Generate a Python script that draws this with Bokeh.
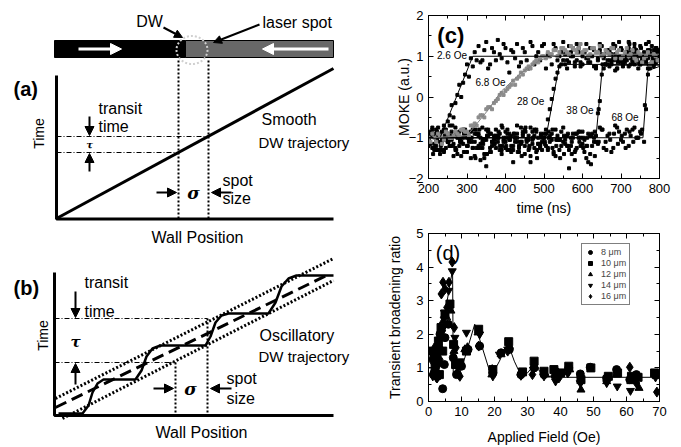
import math
from bokeh.plotting import figure
from bokeh.layouts import row, column
from bokeh.models import (Range1d, Arrow, NormalHead, FixedTicker, LinearAxis,
                          CustomJSTickFormatter, Legend, LegendItem)
from bokeh.core.properties import value
from bokeh.embed import file_html
from bokeh.resources import INLINE

FONT = "Liberation Sans"

# ------------------------------------------------------------------ panel (c) data
t_grid = list(range(200, 801, 10))
t_grid_b = list(range(205, 800, 10))
t_grid_c = list(range(202, 800, 10))

moke_26_a = [-1.1, -0.8, -1.3, -0.9, -0.7, -0.6, -0.2, -0.15, 0.3, 0.35, 0.8, 0.95, 1.1, 1.25, 0.9, 1.35,
             0.8, 1.1, 1.4, 0.95, 1.2, 0.6, 1.1, 1.3, 0.85, 1.1, 0.7, 1.25, 1.0, 0.9, 1.3, 1.05, 0.8, 1.2,
             1.0, 1.35, 0.9, 1.1, 0.75, 1.2, 1.0, 1.3, 0.85, 1.15, 0.95, 1.25, 0.8, 1.1, 1.3, 0.9, 1.2,
             1.0, 1.35, 0.85, 1.1, 1.25, 0.95, 1.15, 0.8, 1.2, 1.05]
moke_26_b = [-0.9, -1.25, -0.75, -1.1, -0.85, -0.45, -0.5, 0.05, 0.0, 0.55, 0.5, 0.75, 0.9, 0.85, 1.15,
             0.7, 1.2, 0.9, 1.05, 1.3, 0.85, 1.15, 0.95, 0.75, 1.2, 0.9, 1.35, 0.8, 1.1, 1.25, 0.7, 1.0,
             1.3, 0.9, 1.1, 0.8, 1.25, 1.0, 1.3, 0.85, 1.1, 0.95, 1.2, 0.75, 1.3, 1.0, 1.15, 0.85, 1.05,
             1.35, 0.9, 1.1, 0.8, 1.2, 1.0, 0.9, 1.3, 1.05, 1.15, 0.95]
moke_68g_a = [-1.0, -0.9, -1.1, -0.95, -1.05, -0.9, -1.0, -0.85, -0.95, -0.8,
              -0.85, -0.7, -0.65, -0.5, -0.45, -0.3, -0.25, -0.15, -0.05, 0.1,
              0.15, 0.25, 0.4, 0.45, 0.6, 0.65, 0.75, 0.8, 0.9, 0.95,
              1.0, 1.1, 1.05, 1.15, 1.1, 1.2, 1.1, 1.25, 1.15, 1.2,
              1.1, 1.15, 1.05, 1.2, 1.1, 1.0, 1.15, 1.05, 1.2, 1.1,
              0.95, 1.1, 1.0, 1.15, 0.9, 1.05, 0.95, 1.1, 0.85, 1.0, 0.9]
moke_68g_b = [-1.1, -1.0, -0.9, -1.15, -0.85, -1.0, -0.95, -0.9, -0.8, -0.85,
              -0.95, -0.7, -0.7, -0.45, -0.5, -0.25, -0.3, -0.1, 0.05, 0.05,
              0.2, 0.3, 0.3, 0.5, 0.55, 0.7, 0.7, 0.85, 0.85, 1.0,
              0.95, 1.05, 1.15, 1.0, 1.2, 1.15, 1.05, 1.2, 1.1, 1.3,
              1.15, 1.0, 1.2, 1.1, 1.25, 1.05, 1.1, 1.2, 0.95, 1.15,
              1.0, 1.2, 1.05, 0.95, 1.1, 0.85, 1.0, 0.8, 1.05, 0.9]
moke_28_a = [-1.2, -0.9, -1.05, -1.4, -0.8, -1.1, -0.95, -1.3, -0.85, -1.15,
             -1.0, -1.5, -0.9, -1.2, -0.75, -1.05, -1.35, -0.95, -1.1, -0.7,
             -1.25, -1.0, -1.6, -0.9, -1.15, -0.8, -1.3, -1.05, -0.85, -1.2,
             -1.0, -0.55, -0.05, 0.45, 0.75, 0.9, 0.7, 1.0, 0.85, 1.1,
             0.8, 0.95, 1.2, 0.75, 0.9, 1.05, 0.8, 1.15, 0.9, 0.7,
             1.0, 0.85, 1.2, 0.9, 1.05, 0.8, 1.1, 0.95, 1.25, 0.85, 1.0]
moke_28_b = [-0.85, -1.3, -0.95, -1.1, -1.25, -0.7, -1.15, -1.0, -1.45, -0.9,
             -1.1, -0.8, -1.25, -1.0, -1.4, -0.85, -1.1, -1.25, -0.9, -1.05,
             -0.8, -1.2, -1.0, -1.35, -0.95, -1.1, -0.75, -1.25, -1.0, -1.1,
             -0.9, -0.3, 0.2, 0.6, 0.8, 1.05, 0.85, 1.2, 0.9, 0.75,
             1.1, 0.85, 1.0, 0.7, 1.15, 0.95, 0.8, 1.05, 1.25, 0.9,
             0.8, 1.1, 0.95, 1.3, 0.85, 1.0, 0.9, 1.15, 0.8, 1.05]
moke_38_a = [-0.95, -1.25, -0.8, -1.1, -1.3, -0.9, -1.05, -0.75, -1.2, -1.0,
             -1.35, -0.85, -1.1, -0.95, -1.25, -1.7, -0.9, -1.15, -1.0, -1.3,
             -0.85, -1.05, -1.2, -0.7, -1.1, -1.4, -0.95, -1.15, -0.8, -1.25,
             -1.0, -1.3, -0.9, -1.45, -1.05, -0.75, -1.2, -1.0, -1.35, -0.85,
             -1.15, -1.5, -0.95, -1.1, -0.4, 0.55, 0.8, 0.75, 0.95, 0.7,
             0.85, 1.0, 0.75, 0.9, 1.15, 0.8, 0.95, 0.7, 1.05, 0.85, 0.9]
moke_38_b = [-1.15, -0.9, -1.3, -1.05, -0.8, -1.2, -1.45, -0.95, -1.1, -0.85,
             -1.0, -1.25, -0.9, -1.55, -1.05, -0.8, -1.2, -0.95, -1.3, -1.1,
             -0.9, -1.35, -1.0, -1.2, -0.85, -1.05, -1.6, -0.95, -1.15, -1.3,
             -0.8, -1.1, -1.4, -0.95, -1.2, -1.05, -1.75, -0.9, -1.25, -1.0,
             -1.35, -0.9, -1.2, -0.95, -0.1, 0.7, 0.9, 0.8, 0.65, 1.0,
             0.75, 0.9, 1.1, 0.8, 0.7, 0.95, 0.85, 1.05, 0.75, 0.9]
moke_38_c = [-1.0, -1.4, -0.85, -1.2, -0.95, -1.1, -0.7, -1.3, -1.05, -0.9,
             -1.2, -1.0, -1.5, -0.8, -1.15, -0.95, -1.35, -1.05, -0.85, -1.2,
             -1.0, -1.3, -0.9, -1.1, -1.45, -0.75, -1.2, -1.0, -1.3, -0.9,
             -1.1, -0.85, -1.25, -1.05, -1.5, -0.95, -1.2, -1.4, -0.9, -1.1,
             -1.25, -1.0, -1.65, -0.85, -0.3, 0.8, 1.1, 0.9, 1.2, 0.85,
             1.15, 0.95, 1.3, 1.05, 0.9, 1.2, 1.0, 1.35, 0.95, 1.1]
moke_68_a = [-1.05, -0.75, -1.2, -0.95, -1.35, -1.1, -0.85, -1.25, -1.0, -0.8,
             -1.2, -1.0, -1.45, -0.9, -1.1, -0.8, -1.25, -1.05, -0.95, -1.4,
             -1.1, -0.9, -1.3, -1.0, -0.75, -1.2, -1.05, -0.85, -1.35, -1.15,
             -0.9, -1.25, -1.05, -0.8, -1.3, -1.1, -0.95, -1.2, -1.55, -1.0,
             -0.85, -1.2, -1.4, -1.0, -1.15, -0.8, -1.1, -0.9, -1.25, -0.75,
             -1.05, -0.9, -1.2, -0.8, -1.0, -0.85, -1.1, 0.55, 0.85, 1.0, 1.1]
moke_68_b = [-0.9, -1.15, -1.3, -0.85, -1.05, -1.2, -0.95, -1.4, -1.1, -0.8,
             -1.05, -1.25, -0.9, -1.15, -1.5, -0.95, -1.1, -0.8, -1.2, -1.0,
             -1.3, -0.95, -1.1, -1.25, -0.9, -1.05, -1.45, -0.8, -1.15, -1.0,
             -1.2, -0.95, -1.35, -1.05, -0.85, -1.15, -1.3, -1.0, -0.9, -1.2,
             -1.05, -1.6, -0.9, -1.1, -0.75, -1.25, -0.95, -1.35, -0.7, -0.85,
             -1.1, -0.8, -0.95, -0.75, -1.0, -0.8, -0.3, 0.7, 0.95, 1.15]
moke_68_c = [-1.15, -0.95, -1.05, -1.3, -0.8, -1.0, -1.2, -0.9, -1.1, -1.35,
             -0.95, -1.1, -0.8, -1.25, -1.05, -1.4, -0.9, -1.15, -1.0, -0.75,
             -1.2, -1.05, -0.9, -1.35, -1.1, -0.85, -1.25, -1.0, -1.5, -0.95,
             -1.15, -1.0, -0.8, -1.2, -1.05, -1.4, -0.9, -1.1, -1.3, -0.85,
             -1.0, -1.2, -0.95, -1.45, -1.1, -0.8, -1.3, -1.05, -0.9, -1.15,
             -0.95, -1.25, -0.85, -1.1, -1.0, -0.9, -0.2, 0.8, 1.05, 1.2]

fit_26_t = [200, 230, 315, 800]
fit_26_m = [-1.0, -1.0, 1.0, 1.0]
fit_68g_t = [200, 300, 352, 390, 438, 489, 540, 800]
fit_68g_m = [-1.0, -0.95, -0.35, 0.15, 0.57, 0.9, 1.05, 1.05]
fit_28_t = [200, 505, 540, 800]
fit_28_m = [-1.0, -1.0, 0.8, 0.8]
fit_38_t = [200, 635, 652, 800]
fit_38_m = [-1.0, -1.0, 0.78, 0.78]
fit_68_t = [200, 757, 770, 800]
fit_68_m = [-1.0, -1.0, 0.65, 0.75]

field_labels = ["2.6 Oe", "6.8 Oe", "28 Oe", "38 Oe", "68 Oe"]
field_label_t = [222, 322, 430, 558, 675]
field_label_m = [1.02, 0.36, -0.11, -0.33, -0.5]

# ------------------------------------------------------------------ panel (d) data
f8 = [1.5, 1.8, 2.5, 2.8, 3.2, 3.5, 4.3, 4.8, 5.0, 6.0, 7.5, 8.5, 10, 12, 15.5, 19.5, 22, 24.5, 28, 32,
      35, 38.5, 42.5, 46, 49, 54, 57, 61, 63, 69]
r8 = [0.8, 1.4, 1.2, 0.75, 1.6, 2.0, 0.38, 1.1, 1.9, 2.3, 1.3, 0.8, 1.05, 1.55, 1.65, 0.85, 1.45, 1.55,
      0.8, 1.0, 0.8, 0.9, 1.0, 0.82, 1.02, 0.7, 0.95, 0.65, 0.8, 0.8]
f10 = [1.2, 2.0, 2.5, 3.0, 3.3, 3.8, 4.3, 5.0, 6.5, 7.6, 8.2, 9.5, 11.5, 15.2, 19.5, 24.3, 28.5, 32, 35,
       38, 40, 42.5, 46.2, 49.2, 54.5, 57.3, 61.5, 63.5, 68.5]
r10 = [1.5, 1.0, 1.3, 1.8, 0.8, 2.2, 1.5, 2.6, 2.9, 1.7, 1.1, 1.15, 1.5, 2.15, 0.95, 1.78, 0.88, 1.2, 0.9,
       0.95, 0.85, 1.05, 0.65, 1.0, 0.75, 0.85, 0.75, 0.72, 0.85]
f12 = [1.0, 1.7, 2.2, 2.9, 3.5, 4.0, 4.5, 5.5, 6.8, 7.7, 8.8, 11, 15, 19.2, 22, 24.5, 28, 32.2, 35.5, 39,
       42.8, 46.2, 54, 57, 61.3, 63.8, 69]
r12 = [1.3, 1.6, 0.95, 1.2, 2.1, 1.9, 2.4, 2.5, 2.7, 1.5, 0.9, 1.55, 2.05, 0.8, 1.4, 1.65, 0.85, 1.05,
       0.8, 0.8, 0.95, 0.35, 0.6, 0.8, 0.6, 0.4, 0.75]
f14 = [1.3, 2.0, 2.4, 3.1, 3.6, 4.0, 4.5, 4.8, 6.1, 7.2, 8.0, 11.5, 15.5, 19.5, 21.5, 24, 28.2, 31.8, 35,
       38.5, 42.5, 46, 54, 57.2, 61.2, 68.8]
r14 = [0.75, 1.15, 0.7, 1.1, 1.5, 2.05, 2.2, 2.65, 3.3, 3.88, 1.9, 2.05, 2.0, 0.75, 1.4, 1.55, 0.8, 0.95,
       0.75, 0.6, 0.9, 0.55, 0.55, 0.45, 0.32, 0.72]
f16 = [1.2, 1.6, 2.2, 2.6, 3.0, 3.4, 3.9, 4.4, 4.6, 5.0, 5.6, 6.2, 7.2, 7.8, 8.3, 9.5, 11.8, 15.2, 15.5,
       19.3, 24, 28, 31.5, 35, 38, 39.5, 42.2, 46.3, 54.2, 57, 61, 63, 69.2]
r16 = [1.2, 0.9, 1.5, 0.7, 0.8, 1.25, 3.2, 3.55, 2.5, 3.35, 2.8, 3.55, 4.15, 2.2, 1.6, 0.75, 1.6, 1.65,
       2.05, 0.95, 1.5, 0.78, 0.8, 0.85, 0.75, 0.7, 0.85, 0.6, 0.65, 0.9, 1.02, 0.55, 0.28]
fit_d_f = [0, 1.5, 2.5, 4, 5.5, 6.5, 7.3, 7.5, 9, 11, 14, 16, 19, 21.5, 24, 26, 28, 30, 32, 35, 38, 70]
fit_d_r = [1.0, 1.0, 1.3, 2.0, 2.9, 3.5, 3.9, 0.8, 0.75, 1.3, 2.3, 1.7, 0.75, 1.2, 1.75, 1.2, 0.78, 0.85,
           1.1, 0.75, 0.72, 0.72]
size_labels = ["8 μm", "10 μm", "12 μm", "14 μm", "16 μm"]

# ------------------------------------------------------------------ schematic geometry (page px)
bar_black = [54, 185, 40, 57]          # left, right, top, bottom
bar_gray = [185, 333, 40, 57]
spot_circle = [191.5, 49.5, 31, 28]     # x, y, w, h

a_axis_x = [56, 56, 333]
a_axis_y = [75, 218.5, 218.5]
a_traj_x = [56, 333]
a_traj_y = [218, 68]
a_spot_x = [178, 208]
a_spot_top = [60, 60]
a_spot_bot = [218, 218]
a_transit_y = [136, 152]
a_transit_x_end = [208, 178]

b_axis_x = [54, 54, 333]
b_axis_y = [272, 415, 415]
b_upper_x = [55, 333]
b_upper_y = [398, 258]
b_lower_x = [62, 333]
b_lower_y = [418, 280]
b_mid_x = [55, 330]
b_mid_y = [407, 273]
b_osc_x = [58, 82, 88, 92, 97, 103, 135, 141, 146, 152, 160, 205, 210, 215, 221, 228, 268, 275, 281,
           288, 296, 333]
b_osc_y = [413, 413, 405, 392, 383, 379, 379, 370, 356, 348, 345, 345, 336, 322, 315, 313, 313, 302,
           286, 278, 275, 275]
b_spot_x = [175, 207]
b_spot_top = [362, 318]
b_spot_bot = [415, 415]
b_transit_y = [318, 362]
b_transit_x_end = [207, 175]

# ------------------------------------------------------------------ left schematic figure
L = figure(width=353, height=447, x_range=Range1d(0, 353), y_range=Range1d(447, 0),
           x_axis_type=None, y_axis_type=None, output_backend="svg", toolbar_location=None,
           min_border=0)
L.outline_line_color = None
L.xgrid.visible = False
L.ygrid.visible = False


def txt(fig, xs, ys, texts, size="16px", align="left", style="normal", angle=0.0, font=FONT,
        color="black"):
    fig.text(x=xs, y=ys, text=texts, text_font=value(font), text_font_size=size, text_align=align,
             text_baseline="middle", text_font_style=style, angle=angle, text_color=color)


def arrow(fig, x0, y0, x1, y1, color="black", width=2, size=9):
    fig.add_layout(Arrow(end=NormalHead(size=size, fill_color=color, line_color=color),
                         x_start=x0, y_start=y0, x_end=x1, y_end=y1,
                         line_color=color, line_width=width))


# bar
L.quad(left=[bar_black[0]], right=[bar_black[1]], top=[bar_black[2]], bottom=[bar_black[3]],
       fill_color="black", line_color="black")
L.quad(left=[bar_gray[0]], right=[bar_gray[1]], top=[bar_gray[2]], bottom=[bar_gray[3]],
       fill_color="#686868", line_color="black")
L.ellipse(x=[spot_circle[0]], y=[spot_circle[1]], width=[spot_circle[2]], height=[spot_circle[3]],
          fill_color=None, line_color="#d0d0d0", line_width=2, line_dash="2 2")
arrow(L, 78, 48.5, 121, 48.5, color="white", width=3, size=11)
arrow(L, 328, 48.5, 262, 48.5, color="white", width=3, size=11)
txt(L, [149], [21], ["DW"], align="center")
arrow(L, 163, 27, 182, 37, width=2, size=8)
txt(L, [262], [22], ["laser spot"])
arrow(L, 259, 24, 213, 42, width=2, size=8)

# panel (a)
txt(L, [13], [88], ["(a)"], size="20px", style="bold")
L.line(a_axis_x, a_axis_y, line_color="black", line_width=3)
L.line(a_traj_x, a_traj_y, line_color="black", line_width=3)
L.segment(x0=a_spot_x, y0=a_spot_top, x1=a_spot_x, y1=a_spot_bot, line_color="black",
          line_width=2, line_dash="2 2")
L.segment(x0=[56, 56], y0=a_transit_y, x1=a_transit_x_end, y1=a_transit_y, line_color="black",
          line_width=1, line_dash="5 2 1 2")
arrow(L, 89, 116, 89, 135, size=9)
arrow(L, 89, 171, 89, 153, size=9)
txt(L, [89], [144], ["τ"], size="10px", align="center", style="bold italic", font="DejaVu Serif")
txt(L, [98, 98], [108, 126], ["transit", "time"])
txt(L, [38], [133], ["Time"], size="14px", align="center", angle=math.pi / 2)
arrow(L, 156, 192, 176, 192, size=9)
arrow(L, 231, 192, 211, 192, size=9)
txt(L, [193], [192], ["σ"], size="17px", align="center", style="bold italic", font="DejaVu Serif")
txt(L, [222, 222], [180, 198], ["spot", "size"])
txt(L, [261], [119], ["Smooth"])
txt(L, [258], [142], ["DW trajectory"], size="15px")
txt(L, [197], [237], ["Wall Position"], align="center")

# panel (b)
txt(L, [13], [287], ["(b)"], size="20px", style="bold")
L.line(b_upper_x, b_upper_y, line_color="black", line_width=3, line_dash="2 2")
L.line(b_lower_x, b_lower_y, line_color="black", line_width=3, line_dash="2 2")
L.line(b_mid_x, b_mid_y, line_color="black", line_width=3, line_dash="12 6")
L.line(b_osc_x, b_osc_y, line_color="black", line_width=2.5)
L.line(b_axis_x, b_axis_y, line_color="black", line_width=3)
L.segment(x0=b_spot_x, y0=b_spot_top, x1=b_spot_x, y1=b_spot_bot, line_color="black",
          line_width=2, line_dash="2 2")
L.segment(x0=[54, 54], y0=b_transit_y, x1=b_transit_x_end, y1=b_transit_y, line_color="black",
          line_width=1, line_dash="5 2 1 2")
arrow(L, 75, 291, 75, 317, size=9)
arrow(L, 75, 384, 75, 363, size=9)
txt(L, [75], [341], ["τ"], size="15px", align="center", style="bold italic", font="DejaVu Serif")
txt(L, [84, 84], [282, 311], ["transit", "time"])
txt(L, [42], [335], ["Time"], size="14px", align="center", angle=math.pi / 2)
arrow(L, 153, 388, 173, 388, size=9)
arrow(L, 231, 388, 210, 388, size=9)
txt(L, [190], [388], ["σ"], size="17px", align="center", style="bold italic", font="DejaVu Serif")
txt(L, [226, 226], [378, 398], ["spot", "size"])
txt(L, [259], [335], ["Oscillatory"])
txt(L, [258], [356], ["DW trajectory"], size="15px")
txt(L, [201], [432], ["Wall Position"], align="center")


# ------------------------------------------------------------------ helpers for data panels
def style_axes(fig, xmaj, xmin, ymaj, ymin, xlabel, ylabel, xlabel_standoff, ylabel_standoff):
    bottom = fig.below[0]
    left = fig.left[0]
    blank = CustomJSTickFormatter(code="return ''")
    top = LinearAxis(formatter=blank)
    right = LinearAxis(formatter=blank)
    fig.add_layout(top, "above")
    fig.add_layout(right, "right")
    for ax in [bottom, top]:
        ax.ticker = FixedTicker(ticks=xmaj, minor_ticks=xmin)
    for ax in [left, right]:
        ax.ticker = FixedTicker(ticks=ymaj, minor_ticks=ymin)
    for ax in [bottom, left, top, right]:
        ax.major_tick_in = 5
        ax.major_tick_out = 0
        ax.minor_tick_in = 3
        ax.minor_tick_out = 0
        ax.axis_line_color = "black"
        ax.major_tick_line_color = "black"
        ax.minor_tick_line_color = "black"
        ax.major_label_text_font = FONT
        ax.major_label_text_font_size = "13px"
        ax.major_label_text_color = "black"
        ax.axis_label_text_font = FONT
        ax.axis_label_text_font_size = "14px"
        ax.axis_label_text_font_style = "normal"
        ax.axis_label_text_color = "black"
    for ax in [top, right]:
        ax.major_label_standoff = 0
        ax.major_label_text_font_size = "1px"
    bottom.axis_label = xlabel
    left.axis_label = ylabel
    bottom.axis_label_standoff = xlabel_standoff
    left.axis_label_standoff = ylabel_standoff
    fig.xgrid.visible = False
    fig.ygrid.visible = False
    fig.outline_line_color = "black"


# ------------------------------------------------------------------ panel (c)
C = figure(width=328, height=218, x_range=Range1d(200, 800), y_range=Range1d(-2, 2),
           output_backend="svg", toolbar_location=None, min_border_left=75, min_border_right=20,
           min_border_top=15, min_border_bottom=40)
style_axes(C, list(range(200, 801, 100)), list(range(200, 801, 50)), [-2, -1, 0, 1, 2],
           [-2, -1.5, -1, -0.5, 0, 0.5, 1, 1.5, 2], "time (ns)", "MOKE (a.u.)", 4, -6)

for ys in [moke_26_a, moke_28_a, moke_38_a, moke_68_a]:
    C.scatter(t_grid[:len(ys)], ys, marker="square", size=3, color="black")
for ys in [moke_26_b, moke_28_b, moke_38_b, moke_68_b]:
    C.scatter(t_grid_b[:len(ys)], ys, marker="square", size=3, color="black")
for ys in [moke_38_c, moke_68_c]:
    C.scatter(t_grid_c[:len(ys)], ys, marker="square", size=3, color="black")
C.scatter(t_grid[:len(moke_68g_a)], moke_68g_a, marker="square", size=3, color="#8c8c8c")
C.scatter(t_grid_b[:len(moke_68g_b)], moke_68g_b, marker="square", size=3, color="#8c8c8c")
for tx, my in [(fit_26_t, fit_26_m), (fit_28_t, fit_28_m), (fit_38_t, fit_38_m), (fit_68_t, fit_68_m)]:
    C.line(tx, my, line_color="black", line_width=1)
C.line(fit_68g_t, fit_68g_m, line_color="#808080", line_width=1)
C.text(x=field_label_t, y=field_label_m, text=field_labels, text_font=value(FONT),
       text_font_size="10px", text_baseline="middle", text_align="left", text_color="black",
       background_fill_color="white")
C.text(x=[223], y=[1.5], text=["(c)"], text_font=value(FONT), text_font_size="22px",
       text_font_style="bold", text_baseline="middle", text_color="black")

# ------------------------------------------------------------------ panel (d)
D = figure(width=328, height=229, x_range=Range1d(0, 70), y_range=Range1d(0, 5),
           output_backend="svg", toolbar_location=None, min_border_left=75, min_border_right=22,
           min_border_top=15, min_border_bottom=46)
style_axes(D, list(range(0, 71, 10)), list(range(0, 71, 5)), [0, 1, 2, 3, 4, 5],
           [0, 0.5, 1, 1.5, 2, 2.5, 3, 3.5, 4, 4.5, 5], "Applied Field (Oe)",
           "Transient broadening ratio", 10, 10)
D.line(fit_d_f, fit_d_r, line_color="black", line_width=1)
rs = []
for fx, ry, mk in [(f8, r8, "circle"), (f10, r10, "square"), (f12, r12, "triangle"),
                   (f14, r14, "inverted_triangle"), (f16, r16, "diamond")]:
    sz = 10 if mk == "diamond" else 8
    rs.append(D.scatter(fx, ry, marker=mk, size=sz, color="black"))
D.text(x=[2.2], y=[4.42], text=["(d)"], text_font=value(FONT), text_font_size="20px",
       text_baseline="middle", text_color="black")
leg = Legend(items=[LegendItem(label=lab, renderers=[r]) for lab, r in zip(size_labels, rs)],
             location=(153, 96), border_line_color="black", border_line_width=1,
             label_text_font=FONT, label_text_font_size="9px", glyph_width=10, glyph_height=10,
             label_height=10, spacing=1, padding=3, margin=0, label_standoff=6)
D.add_layout(leg)

layout = row(L, column(C, D))
open("out.html", "w").write(file_html(layout, INLINE))
